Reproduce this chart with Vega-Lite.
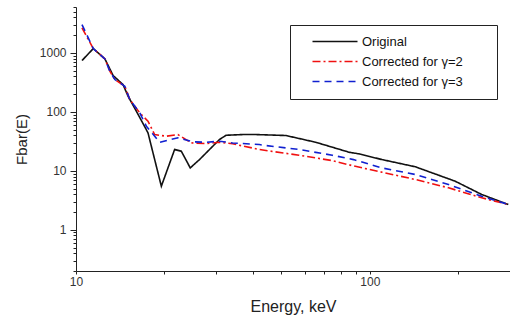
{
  "$schema": "https://vega.github.io/schema/vega-lite/v6.json",
  "width": 434,
  "height": 264,
  "autosize": {"type": "none"},
  "padding": {"left": 76, "top": 7, "right": 0, "bottom": 48},
  "background": "white",
  "config": {"view": {"stroke": null}, "font": "Liberation Sans"},
  "data": {"values": [
    {"series": "Original", "E": 10.48, "F": 741},
    {"series": "Original", "E": 11.45, "F": 1183},
    {"series": "Original", "E": 12.54, "F": 791},
    {"series": "Original", "E": 13.38, "F": 412},
    {"series": "Original", "E": 14.46, "F": 290},
    {"series": "Original", "E": 15.04, "F": 184},
    {"series": "Original", "E": 16.06, "F": 102},
    {"series": "Original", "E": 17.58, "F": 44.1},
    {"series": "Original", "E": 19.52, "F": 5.48},
    {"series": "Original", "E": 21.66, "F": 23.0},
    {"series": "Original", "E": 22.83, "F": 21.5},
    {"series": "Original", "E": 24.48, "F": 11.2},
    {"series": "Original", "E": 26.32, "F": 15.5},
    {"series": "Original", "E": 30.77, "F": 33.9},
    {"series": "Original", "E": 32.42, "F": 40.1},
    {"series": "Original", "E": 36.91, "F": 41.2},
    {"series": "Original", "E": 40.98, "F": 41.2},
    {"series": "Original", "E": 51.79, "F": 39.7},
    {"series": "Original", "E": 65.45, "F": 30.5},
    {"series": "Original", "E": 84.9, "F": 20.7},
    {"series": "Original", "E": 91.78, "F": 19.4},
    {"series": "Original", "E": 110.1, "F": 15.5},
    {"series": "Original", "E": 142.9, "F": 11.7},
    {"series": "Original", "E": 195.3, "F": 6.66},
    {"series": "Original", "E": 240.3, "F": 3.97},
    {"series": "Original", "E": 296, "F": 2.68},
    {"series": "Corrected for γ=2", "E": 10.48, "F": 2653},
    {"series": "Corrected for γ=2", "E": 11.45, "F": 1183},
    {"series": "Corrected for γ=2", "E": 12.54, "F": 791},
    {"series": "Corrected for γ=2", "E": 13.04, "F": 488},
    {"series": "Corrected for γ=2", "E": 13.56, "F": 353},
    {"series": "Corrected for γ=2", "E": 14.66, "F": 272},
    {"series": "Corrected for γ=2", "E": 15.24, "F": 162},
    {"series": "Corrected for γ=2", "E": 16.48, "F": 96.2},
    {"series": "Corrected for γ=2", "E": 17.58, "F": 69.3},
    {"series": "Corrected for γ=2", "E": 18.52, "F": 41.2},
    {"series": "Corrected for γ=2", "E": 20.3, "F": 38.6},
    {"series": "Corrected for γ=2", "E": 22.23, "F": 41.2},
    {"series": "Corrected for γ=2", "E": 24.67, "F": 29.8},
    {"series": "Corrected for γ=2", "E": 27.74, "F": 29.0},
    {"series": "Corrected for γ=2", "E": 30.77, "F": 30.5},
    {"series": "Corrected for γ=2", "E": 34.14, "F": 28.7},
    {"series": "Corrected for γ=2", "E": 42.05, "F": 23.0},
    {"series": "Corrected for γ=2", "E": 44.3, "F": 22.1},
    {"series": "Corrected for γ=2", "E": 57.44, "F": 18.4},
    {"series": "Corrected for γ=2", "E": 74.51, "F": 14.9},
    {"series": "Corrected for γ=2", "E": 88.0, "F": 12.1},
    {"series": "Corrected for γ=2", "E": 110.1, "F": 9.47},
    {"series": "Corrected for γ=2", "E": 142.9, "F": 7.12},
    {"series": "Corrected for γ=2", "E": 185.3, "F": 5.15},
    {"series": "Corrected for γ=2", "E": 240.3, "F": 3.49},
    {"series": "Corrected for γ=2", "E": 296, "F": 2.68},
    {"series": "Corrected for γ=3", "E": 10.48, "F": 3017},
    {"series": "Corrected for γ=3", "E": 11.45, "F": 1183},
    {"series": "Corrected for γ=3", "E": 12.54, "F": 791},
    {"series": "Corrected for γ=3", "E": 13.04, "F": 488},
    {"series": "Corrected for γ=3", "E": 13.56, "F": 353},
    {"series": "Corrected for γ=3", "E": 14.66, "F": 272},
    {"series": "Corrected for γ=3", "E": 15.24, "F": 162},
    {"series": "Corrected for γ=3", "E": 16.48, "F": 96.2},
    {"series": "Corrected for γ=3", "E": 17.36, "F": 57.0},
    {"series": "Corrected for γ=3", "E": 19.27, "F": 30.5},
    {"series": "Corrected for γ=3", "E": 20.55, "F": 33.0},
    {"series": "Corrected for γ=3", "E": 22.23, "F": 36.3},
    {"series": "Corrected for γ=3", "E": 24.98, "F": 31.0},
    {"series": "Corrected for γ=3", "E": 27.74, "F": 30.5},
    {"series": "Corrected for γ=3", "E": 30.77, "F": 31.8},
    {"series": "Corrected for γ=3", "E": 34.14, "F": 29.7},
    {"series": "Corrected for γ=3", "E": 42.05, "F": 27.9},
    {"series": "Corrected for γ=3", "E": 44.3, "F": 26.8},
    {"series": "Corrected for γ=3", "E": 57.44, "F": 23.0},
    {"series": "Corrected for γ=3", "E": 74.51, "F": 18.4},
    {"series": "Corrected for γ=3", "E": 88.0, "F": 15.5},
    {"series": "Corrected for γ=3", "E": 110.1, "F": 11.2},
    {"series": "Corrected for γ=3", "E": 142.9, "F": 8.66},
    {"series": "Corrected for γ=3", "E": 185.3, "F": 5.86},
    {"series": "Corrected for γ=3", "E": 240.3, "F": 3.71},
    {"series": "Corrected for γ=3", "E": 296, "F": 2.68}
  ]},
  "mark": {"type": "line", "strokeWidth": 1.6, "clip": true},
  "encoding": {
    "x": {
      "field": "E", "type": "quantitative",
      "scale": {"type": "log", "domain": [10, 300], "nice": false},
      "axis": {
        "title": "Energy, keV",
        "titleFontSize": 16, "titleFontWeight": "normal", "titleColor": "#222", "titlePadding": 11,
        "values": [10, 20, 30, 40, 50, 60, 70, 80, 90, 100, 200],
        "labelExpr": "datum.value == 10 || datum.value == 100 ? datum.value : ''",
        "labelFontSize": 12, "labelColor": "#333", "labelPadding": 2, "labelOverlap": false, "labelFlush": false,
        "tickSize": 3, "tickColor": "#222", "domainColor": "#222", "grid": false
      }
    },
    "y": {
      "field": "F", "type": "quantitative",
      "scale": {"type": "log", "domain": [0.2, 6000], "nice": false},
      "axis": {
        "title": "Fbar(E)",
        "titleFontSize": 15, "titleFontWeight": "normal", "titleColor": "#222", "titlePadding": 10,
        "values": [0.2, 0.3, 0.4, 0.5, 0.6, 0.7, 0.8, 0.9, 1, 2, 3, 4, 5, 6, 7, 8, 9, 10, 20, 30, 40, 50, 60, 70, 80, 90, 100, 200, 300, 400, 500, 600, 700, 800, 900, 1000, 2000, 3000, 4000, 5000, 6000],
        "labelExpr": "datum.value == 1 || datum.value == 10 || datum.value == 100 || datum.value == 1000 ? datum.value : ''",
        "labelFontSize": 12, "labelColor": "#333", "labelPadding": 4, "labelOverlap": false, "labelFlush": false,
        "tickSize": {"condition": {"test": "datum.value == 1 || datum.value == 10 || datum.value == 100 || datum.value == 1000", "value": 6}, "value": 3},
        "tickColor": "#222", "domainColor": "#222", "grid": false
      }
    },
    "color": {
      "field": "series", "type": "nominal",
      "scale": {"domain": ["Original", "Corrected for γ=2", "Corrected for γ=3"], "range": ["#111111", "#f01010", "#1020d0"]},
      "legend": {
        "title": " ", "titleOrient": "right", "titlePadding": 24, "titleFontSize": 4,
        "orient": "none", "legendX": 214, "legendY": 18,
        "strokeColor": "#222", "fillColor": "white", "padding": 10, "cornerRadius": 0,
        "symbolType": "M-1,0H8", "symbolSize": 100, "symbolStrokeWidth": 1.6, "symbolOffset": 11, "symbolFillColor": "transparent",
        "labelFontSize": 13, "labelColor": "#111", "labelOffset": 38, "rowPadding": 6, "labelLimit": 300,
        "direction": "vertical"
      }
    },
    "strokeDash": {
      "field": "series", "type": "nominal",
      "scale": {"domain": ["Original", "Corrected for γ=2", "Corrected for γ=3"], "range": [[1, 0], [8, 3, 2, 3], [7, 5]]},
      "legend": {
        "title": " ", "titleOrient": "right", "titlePadding": 24, "titleFontSize": 4,
        "orient": "none", "legendX": 214, "legendY": 18,
        "strokeColor": "#222", "fillColor": "white", "padding": 10, "cornerRadius": 0,
        "symbolType": "M-1,0H8", "symbolSize": 100, "symbolStrokeWidth": 1.6, "symbolOffset": 11, "symbolFillColor": "transparent",
        "labelFontSize": 13, "labelColor": "#111", "labelOffset": 38, "rowPadding": 6, "labelLimit": 300,
        "direction": "vertical"
      }
    }
  }
}
